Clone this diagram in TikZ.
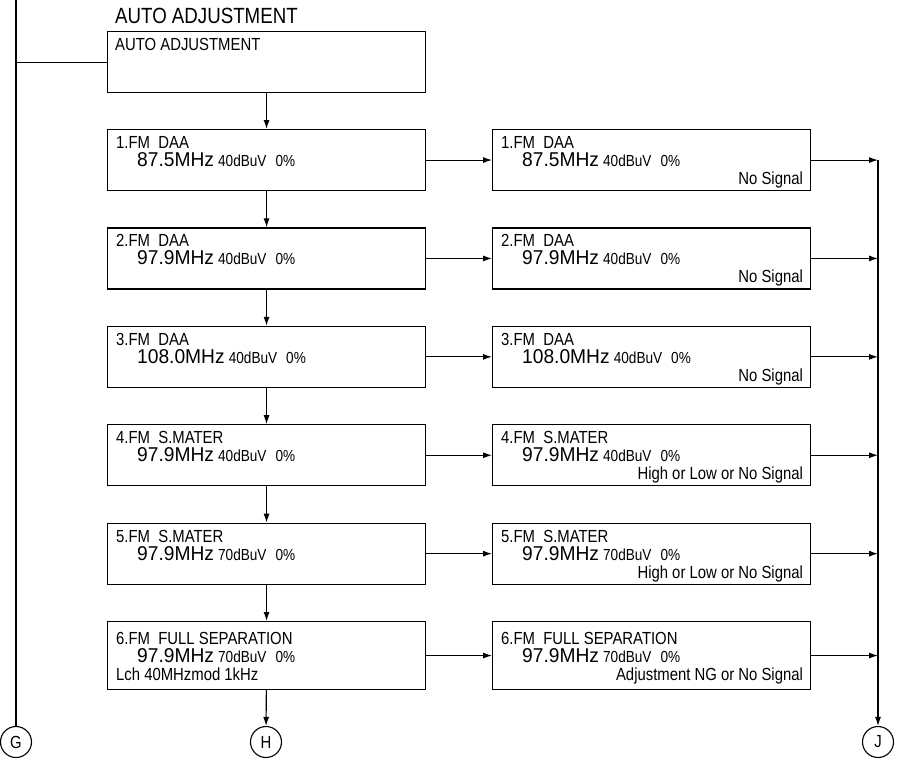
\documentclass[tikz,border=0pt]{standalone}
\usepackage{fontspec}
\setmainfont{Liberation Sans}[FakeStretch=0.85]
\newfontfamily\mhz{Liberation Sans}[FakeStretch=0.96]
\usepackage{tikz}
\usetikzlibrary{arrows.meta,positioning,calc}
\newcommand\fs[1]{\fontsize{#1}{#1}\selectfont}
\tikzset{
  box/.style={draw,line width=1.1pt,minimum width=318pt,minimum height=#1,inner sep=0pt,anchor=north west},
  box/.default={61pt},
  arr/.style={-{Latex[length=9pt,width=6pt]},line width=1.1pt},
  wire/.style={line width=1.1pt},
  txt/.style={inner sep=0pt,font=\fs{17.5}},
  con/.style={draw,circle,minimum size=31pt,inner sep=0pt,line width=1.1pt,font=\fs{17.5}},
}

\begin{document}
\begin{tikzpicture}[x=1pt,y=-1pt]
 \useasboundingbox (0,0) rectangle (898,761);
 \node[txt,font=\fs{22},anchor=base west] (ttl) at (115,23) {AUTO ADJUSTMENT};
 \node[box] (top) at (107,31) {};
 \node[txt,anchor=base west] (topt) at ($(top.north west)+(8,19)$) {AUTO ADJUSTMENT};
 \foreach \i/\a/\m/\d/\r/\h in {1/1.FM\ \ DAA/87.5/40/No Signal/61,2/2.FM\ \ DAA/97.9/40/No Signal/61,3/3.FM\ \ DAA/108.0/40/No Signal/61,4/4.FM\ \ S.MATER/97.9/40/High or Low or No Signal/61,5/5.FM\ \ S.MATER/97.9/70/High or Low or No Signal/61,6/6.FM\ \ FULL SEPARATION/97.9/70/Adjustment NG or No Signal/68}{
  \pgfmathsetmacro{\ty}{129+98.4*(\i-1)}
  \foreach \s/\x in {l/107,r/492}{
   \node[box=\h pt] (\s\i) at (\x,\ty) {};
   \node[txt,anchor=base west] (\s\i a) at ($(\s\i.west)+(9,-11.5)$) {\a};
   \node[txt,anchor=base west] (\s\i b) at ($(\s\i.west)+(30,6.5)$) {{\mhz\fs{20}\m MHz} {\fs{16}\d dBuV\hspace{9pt}0\%}};
  }
  \node[txt,anchor=base east] (r\i c) at ($(r\i.east)+(-8,24.5)$) {\r};
  \draw[arr] (l\i) -- (r\i);
 }
 \node[txt,anchor=base west] (l6c) at ($(l6.west)+(9,24.5)$) {Lch 40MHzmod 1kHz};
 \draw[arr] (top) -- (l1);
 \foreach \i [evaluate=\i as \j using int(\i+1)] in {1,...,5}{\draw[arr] (l\i) -- (l\j);}
 \node[con] (G) at (16,742) {G};
 \node[con] (H) at (266,742) {H};
 \node[con] (J) at (878,742) {J};
 \coordinate (gtop) at (16,0);
 \draw[wire] (gtop) -- (G);
 \draw[wire] (top.west) -- (top.west -| G);
 \draw[arr] (l6) -- (H);
 \foreach \i in {1,...,6}{\draw[arr] (r\i.east) -- (r\i.east -| J);}
 \draw[arr] (r1.east -| J) -- (J);
\end{tikzpicture}
\end{document}
